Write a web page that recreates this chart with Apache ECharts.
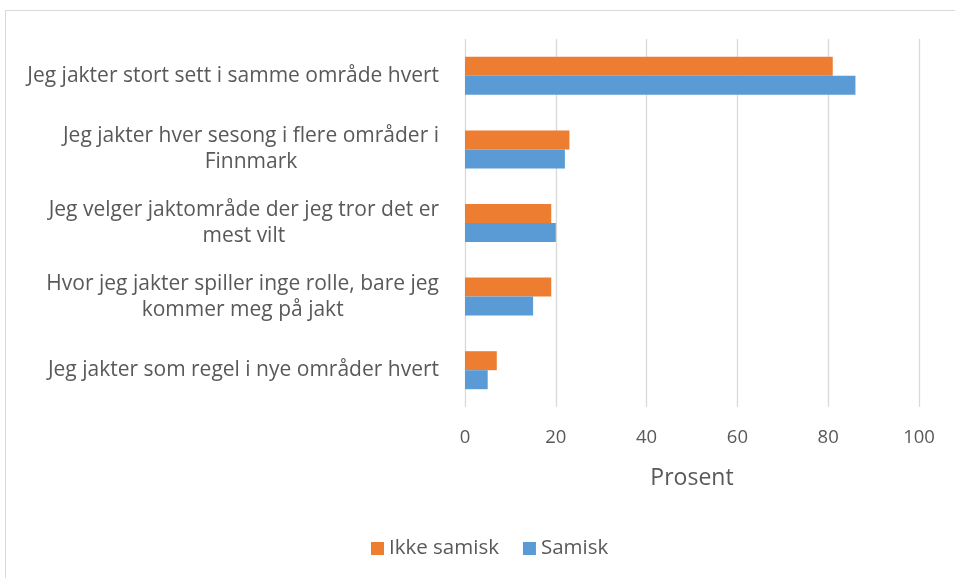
<!DOCTYPE html>
<html>
<head>
<meta charset="utf-8">
<script src="https://cdn.jsdelivr.net/npm/echarts@6/dist/echarts.min.js"></script>
<style>html,body{margin:0;padding:0;background:#fff}#c{width:955px;height:578px}</style>
</head>
<body>
<div id="c"></div>
<script>
const categories = [
  "Jeg jakter stort sett i samme område hvert",
  "Jeg jakter hver sesong i flere områder i\nFinnmark",
  "Jeg velger jaktområde der jeg tror det er\nmest vilt",
  "Hvor jeg jakter spiller inge rolle, bare jeg\nkommer meg på jakt",
  "Jeg jakter som regel i nye områder hvert"
];
const seriesNames = ["Ikke samisk", "Samisk"];
const ikkeSamisk = [81, 23, 19, 19, 7];
const samisk = [86, 22, 20, 15, 5];
const xTicks = [0, 20, 40, 60, 80, 100];

const FONT = "Open Sans";
const TXT = "#595959";
const chart = echarts.init(document.getElementById('c'));
chart.setOption({
  animation: false,
  textStyle: { fontFamily: FONT },
  graphic: [{
    type: 'rect', shape: { x: 5.5, y: 10.5, width: 960, height: 580 },
    style: { fill: 'none', stroke: '#d9d9d9', lineWidth: 1 }, silent: true, z: -1
  }],
  legend: {
    bottom: 14, left: 366, itemWidth: 13, itemHeight: 13, itemGap: 24,
    icon: 'rect',
    textStyle: { color: TXT, fontSize: 20.5, fontFamily: FONT },
    data: seriesNames
  },
  grid: { left: 465, right: 36, top: 39, bottom: 171, containLabel: false },
  xAxis: {
    type: 'value', min: xTicks[0], max: xTicks[xTicks.length - 1], interval: 20,
    name: 'Prosent', nameLocation: 'middle', nameGap: 60,
    nameTextStyle: { color: TXT, fontSize: 23, fontFamily: FONT },
    axisLine: { show: false }, axisTick: { show: false },
    axisLabel: { color: TXT, fontSize: 18.5, margin: 21, fontFamily: FONT },
    splitLine: { lineStyle: { color: '#d9d9d9', width: 1.3 } }
  },
  yAxis: {
    type: 'category', inverse: true, data: categories,
    axisLine: { show: false }, axisTick: { show: false },
    axisLabel: {
      color: TXT, fontSize: 21, margin: 26, fontFamily: FONT, lineHeight: 26,
      formatter: function (v) { return v.split('\n').map(l => '{c|' + l + '}').join('\n'); },
      rich: { c: { align: 'center', color: TXT, fontSize: 21, fontFamily: FONT, lineHeight: 26 } }
    }
  },
  series: [
    { name: seriesNames[0], type: 'bar', data: ikkeSamisk, barWidth: 19, barGap: '0%',
      itemStyle: { color: '#ED7D31' } },
    { name: seriesNames[1], type: 'bar', data: samisk, barWidth: 19, barGap: '0%',
      itemStyle: { color: '#5B9BD5' } }
  ]
});
</script>
</body>
</html>
